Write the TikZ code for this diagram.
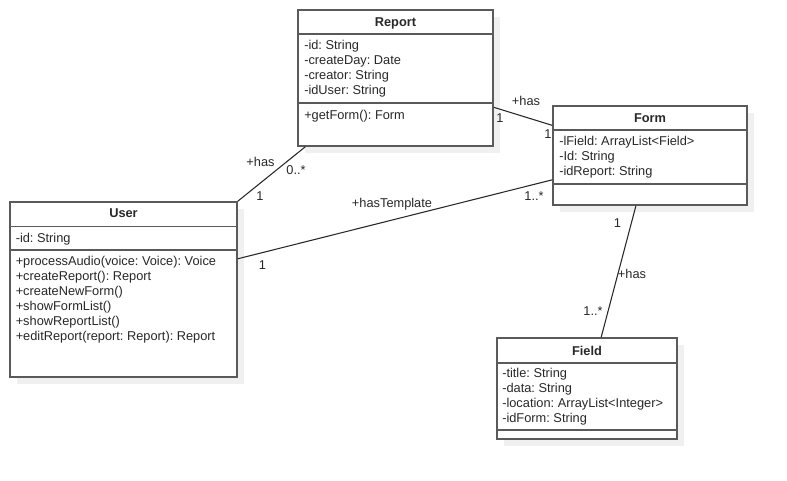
\documentclass[tikz,border=0pt]{standalone}
\usepackage{fontspec}
\setmainfont{Liberation Sans}
\usetikzlibrary{fit,calc}
\definecolor{boxline}{RGB}{90,90,90}
\definecolor{shadowgray}{RGB}{240,240,240}
\definecolor{ink}{RGB}{40,40,40}
\frenchspacing

\begin{document}
\begin{tikzpicture}[x=0.75pt,y=0.75pt,yscale=-1,xscale=1,
  every node/.style={font=\fontsize{9.6}{11.5}\selectfont, text=ink},
  classbox/.style={draw=boxline, line width=1.1pt, fill=white, inner sep=0pt},
  divider/.style={draw=boxline, line width=1.1pt},
  ctitle/.style={anchor=base, inner sep=0pt, font=\fontsize{9.6}{11.5}\selectfont\bfseries},
  member/.style={anchor=base west, inner sep=0pt},
  assoc/.style={draw=ink, line width=0.8pt},
  mult/.style={inner sep=0.75pt}]
\useasboundingbox (0,0) rectangle (787,480);

% Report
\fill[shadowgray] (305,17) rectangle (500,153);
\node[classbox, fit={(298,10) (493,146)}] (report) {};
\draw[divider] (298,34) -- (493,34) (298,103) -- (493,103);
\node[ctitle] (report-t) at (395.5,26.5) {Report};
\foreach \m [count=\i from 0] in {-id: String,-createDay: Date,-creator: String,-idUser: String}
  \node[member] (report-a\i) at (304,49.7+15*\i) {\m};
\node[member] (report-o0) at (304,119.5) {+getForm(): Form};

% User
\fill[shadowgray] (17,209) rectangle (244,384);
\node[classbox, fit={(10,202) (237,377)}] (user) {};
\draw[divider] (10,226.5) -- (237,226.5) (10,250) -- (237,250);
\node[ctitle] (user-t) at (123.5,217.5) {User};
\node[member] (user-a0) at (15.5,242) {-id: String};
\foreach \m [count=\i from 0] in {+processAudio(voice: Voice): Voice,+createReport(): Report,+createNewForm(),+showFormList(),+showReportList(),+editReport(report: Report): Report}
  \node[member] (user-o\i) at (15.5,265.3+15*\i) {\m};

% Form
\fill[shadowgray] (560,113) rectangle (754,212);
\node[classbox, fit={(553,106) (747,205)}] (form) {};
\draw[divider] (553,130) -- (747,130) (553,184) -- (747,184);
\node[ctitle] (form-t) at (650,122.5) {Form};
\foreach \m [count=\i from 0] in {-lField: ArrayList<Field>,-Id: String,-idReport: String}
  \node[member] (form-a\i) at (559,145+15*\i) {\m};

% Field
\fill[shadowgray] (504,345) rectangle (684,446);
\node[classbox, fit={(497,338) (677,439)}] (field) {};
\draw[divider] (497,363) -- (677,363) (497,430) -- (677,430);
\node[ctitle] (field-t) at (587,355) {Field};
\foreach \m [count=\i from 0] in {-title: String,-data: String,-location: ArrayList<Integer>,-idForm: String}
  \node[member] (field-a\i) at (502,377.5+15*\i) {\m};

% associations
\draw[assoc] ($(report.south east)!.287!(report.north east)$) -- ($(form.north west)!.2!(form.south west)$);
\draw[assoc] ($(report.south west)!.041!(report.south east)$) -- (user.north east);
\draw[assoc] ($(user.north east)!.326!(user.south east)$) -- ($(form.north west)!.742!(form.south west)$);
\draw[assoc] ($(form.south west)!.428!(form.south east)$) -- ($(field.north west)!.578!(field.north east)$);

% role names and multiplicities
\node[mult] (rf-role) at (526,101) {+has};
\node[mult] (rf-r) at (500,118) {1};
\node[mult] (rf-f) at (548,134) {1};
\node[mult] (ru-role) at (260.5,161.5) {+has};
\node[mult] (ru-r) at (296,170) {0..*};
\node[mult] (ru-u) at (260,196.5) {1};
\node[mult] (uf-role) at (392,204.5) {+hasTemplate};
\node[mult] (uf-f) at (534,196) {1..*};
\node[mult] (uf-u) at (262.5,265) {1};
\node[mult] (ff-f) at (617.5,223) {1};
\node[mult] (ff-role) at (632,274) {+has};
\node[mult] (ff-d) at (593,311.5) {1..*};
\end{tikzpicture}
\end{document}
